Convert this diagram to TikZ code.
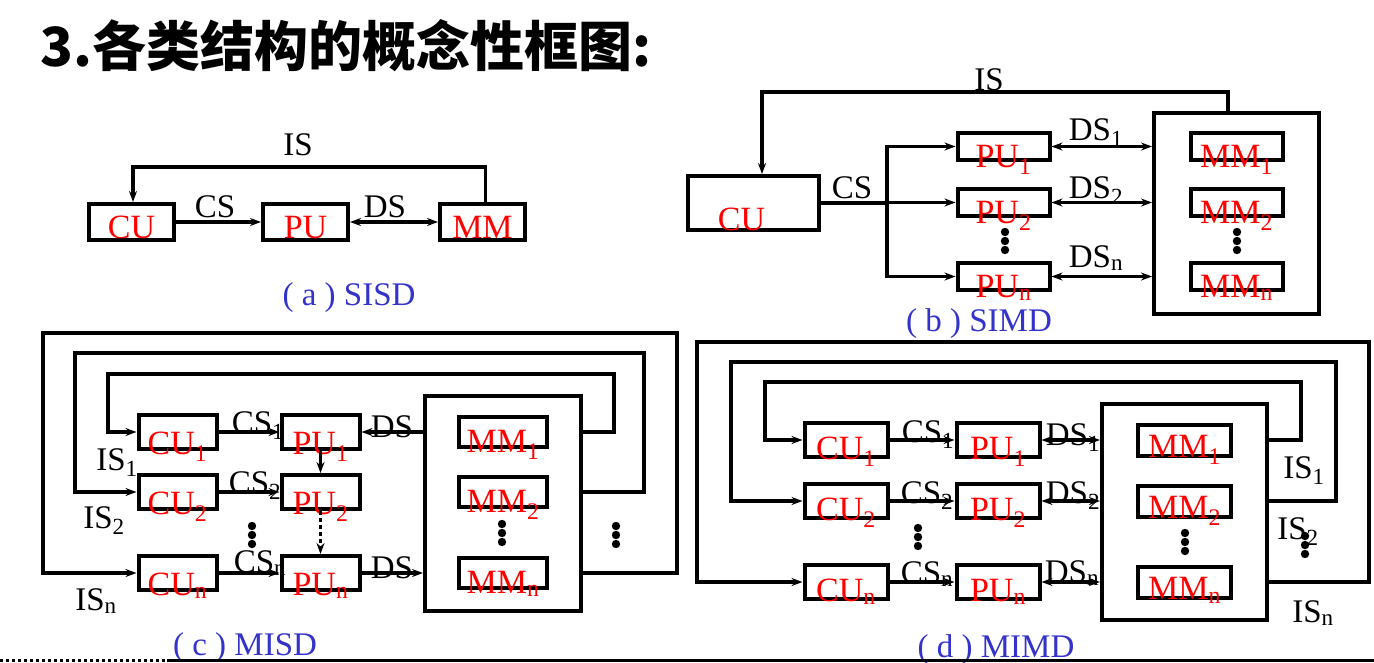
\documentclass[tikz,border=0pt]{standalone}
\usepackage{fontspec}
\setmainfont{Liberation Serif}
\newfontfamily\cjk{Noto Sans CJK SC}
\usetikzlibrary{arrows.meta, positioning}

\definecolor{capblue}{RGB}{51,51,204}
\newcommand\unitfont{\fontsize{34}{40}\selectfont}
\newcommand\sigfont{\fontsize{33}{38}\selectfont}

\tikzstyle{box} = [rectangle, draw=black, line width=4pt, inner sep=0pt]
\tikzstyle{lbl} = [text=red, font=\unitfont, anchor=base, inner sep=0pt]
\tikzstyle{sig} = [font=\sigfont, anchor=base, inner sep=0pt]
\tikzstyle{caption} = [text=capblue, font=\sigfont, anchor=base, inner sep=0pt]
\tikzstyle{arrow} = [line width=3.5pt, -{Stealth[length=11pt, width=8pt]}]
\tikzstyle{darrow} = [line width=3.5pt, {Stealth[length=11pt, width=8pt]}-{Stealth[length=11pt, width=8pt]}]
\tikzstyle{loopline} = [line width=4pt, -{Stealth[length=11pt, width=8pt]}]

\newcommand\dotcol[2]{\foreach \dy in {-9,0,9} {\fill (#1,{#2+(\dy)}) circle (4.2pt);}}

\begin{document}
\begin{tikzpicture}[x=1pt, y=-1pt]
\useasboundingbox (0,0) rectangle (1374,662);

\node[anchor=west, font={\cjk\bfseries\fontsize{54}{58}\selectfont}] (title) at (37,46) {3.各类结构的概念性框图:};

% (a) SISD
\tikzstyle{boxA} = [box, minimum width=85pt, minimum height=36pt]
\node[boxA, label={[lbl, yshift=4pt]south:CU}] (cuA) at (131.5,222) {};
\node[boxA, right=85pt of cuA, label={[lbl, yshift=4pt]south:PU}] (puA) {};
\node[boxA, right=88pt of puA, label={[lbl, yshift=4pt]south:MM}] (mmA) {};

\draw[arrow] (cuA) -- (puA);
\draw[darrow] (puA) -- (mmA);
\draw[arrow] ([xshift=3pt]mmA.north) -- ++(0,-35) -| ([xshift=1.5pt]cuA.north);

\node[sig] (isA) at (298,155) {IS};
\node[sig] (csA) at (215,217) {CS};
\node[sig] (dsA) at (385,217) {DS};
\node[caption] (capA) at (349,305) {( a ) SISD};

% (b) SIMD
\tikzstyle{boxB} = [box, minimum width=92pt, minimum height=27pt]
\node[box, minimum width=131pt, minimum height=54pt, label={[lbl, xshift=-12pt, yshift=2pt]south:CU}] (cuB) at (753.5,203) {};
\node[boxB, label={[lbl, yshift=-5pt]south:PU\textsubscript{1}}] (puB1) at (1003.5,146.5) {};
\node[boxB, below=25pt of puB1, label={[lbl, yshift=-5pt]south:PU\textsubscript{2}}] (puB2) {};
\node[boxB, below=43pt of puB2, label={[lbl, yshift=-5pt]south:PU\textsubscript{n}}] (puBn) {};
\node[box, minimum width=165pt, minimum height=201pt] (memB) at (1236.5,213.5) {};
\node[boxB, label={[lbl, yshift=-5pt]south:MM\textsubscript{1}}] (mmB1) at (puB1 -| memB) {};
\node[boxB, label={[lbl, yshift=-5pt]south:MM\textsubscript{2}}] (mmB2) at (puB2 -| memB) {};
\node[boxB, label={[lbl, yshift=-5pt]south:MM\textsubscript{n}}] (mmBn) at (puBn -| memB) {};

\draw[arrow] ([xshift=-8.5pt]memB.north) -- ++(0,-19) -| ([xshift=8.5pt]cuB.north);
\coordinate (busB) at ([xshift=66pt]cuB.east);
\draw[line width=3.5pt] (cuB) -- (busB);
\draw[arrow] (busB) |- (puB1);
\draw[arrow] (busB) |- (puB2);
\draw[arrow] (busB) |- (puBn);
\draw[darrow] (puB1) -- (puB1 -| memB.west);
\draw[darrow] (puB2) -- (puB2 -| memB.west);
\draw[darrow] (puBn) -- (puBn -| memB.west);

\node[sig] (isB) at (989,90) {IS};
\node[sig] (csB) at (852,198) {CS};
\node[sig] (dsB1) at (1096,140) {DS\textsubscript{1}};
\node[sig] (dsB2) at (1096,198) {DS\textsubscript{2}};
\node[sig] (dsBn) at (1096,267) {DS\textsubscript{n}};
\dotcol{1005}{241}
\dotcol{1237}{241}
\node[caption] (capB) at (979,331) {( b ) SIMD};

% (c) MISD
\tikzstyle{boxC} = [box, minimum width=78pt, minimum height=34pt]
\tikzstyle{memboxC} = [box, minimum width=88pt, minimum height=30pt]
\node[boxC, label={[lbl, yshift=-3pt]south:CU\textsubscript{1}}] (cuC1) at (177.5,432) {};
\node[boxC, below=22pt of cuC1, label={[lbl, yshift=-3pt]south:CU\textsubscript{2}}] (cuC2) {};
\node[boxC, below=43pt of cuC2, label={[lbl, yshift=-3pt]south:CU\textsubscript{n}}] (cuCn) {};
\node[boxC, right=61pt of cuC1, label={[lbl, yshift=-3pt]south:PU\textsubscript{1}}] (puC1) {};
\node[boxC, right=61pt of cuC2, label={[lbl, yshift=-3pt]south:PU\textsubscript{2}}] (puC2) {};
\node[boxC, right=61pt of cuCn, label={[lbl, yshift=-3pt]south:PU\textsubscript{n}}] (puCn) {};
\node[box, minimum width=156pt, minimum height=215pt] (memC) at (503,503.5) {};
\node[memboxC, label={[lbl, yshift=-3pt]south:MM\textsubscript{1}}] (mmC1) at (cuC1 -| memC) {};
\node[memboxC, label={[lbl, yshift=-3pt]south:MM\textsubscript{2}}] (mmC2) at (cuC2 -| memC) {};
\node[memboxC, label={[lbl, yshift=-3pt]south:MM\textsubscript{n}}] (mmCn) at (cuCn -| memC) {};

\draw[arrow] (cuC1) -- (puC1);
\draw[arrow] (cuC2) -- (puC2);
\draw[arrow] (cuCn) -- (puCn);
\draw[arrow] (puC1) -- (puC2);
\draw[arrow, line width=3pt, dash pattern=on 4pt off 3pt] (puC2) -- (puCn);
\draw[arrow] (memC.west |- puC1) -- (puC1);
\draw[arrow] (puCn) -- (puCn -| memC.west);
\draw[loopline] (cuC1 -| memC.east) -| ++(31,-58) -| ([xshift=-29pt]cuC1.west) -- (cuC1.west);
\draw[loopline] (cuC2 -| memC.east) -| ++(61,-139) -| ([xshift=-62pt]cuC2.west) -- (cuC2.west);
\draw[loopline] (cuCn -| memC.east) -| ++(94,-240) -| ([xshift=-94pt]cuCn.west) -- (cuCn.west);

\node[sig] (csC1) at (258,433) {CS\textsubscript{1}};
\node[sig] (csC2) at (255,493) {CS\textsubscript{2}};
\node[sig] (csCn) at (260,572) {CS\textsubscript{n}};
\node[sig] (dsC1) at (392,437) {DS};
\node[sig] (dsCn) at (392,578) {DS};
\node[sig] (isC1) at (117,470) {IS\textsubscript{1}};
\node[sig] (isC2) at (104,528) {IS\textsubscript{2}};
\node[sig] (isCn) at (96,610) {IS\textsubscript{n}};
\dotcol{252}{535}
\dotcol{502}{533}
\dotcol{616}{535}
\node[caption] (capC) at (245,655) {( c ) MISD};

% (d) MIMD
\tikzstyle{boxD} = [box, minimum width=83pt, minimum height=34pt]
\tikzstyle{memboxD} = [box, minimum width=93pt, minimum height=31pt]
\node[boxD, label={[lbl]south:CU\textsubscript{1}}] (cuD1) at (846,440) {};
\node[boxD, below=23pt of cuD1, label={[lbl]south:CU\textsubscript{2}}] (cuD2) {};
\node[boxD, below=43pt of cuD2, label={[lbl]south:CU\textsubscript{n}}] (cuDn) {};
\node[boxD, right=65pt of cuD1, label={[lbl]south:PU\textsubscript{1}}] (puD1) {};
\node[boxD, right=65pt of cuD2, label={[lbl]south:PU\textsubscript{2}}] (puD2) {};
\node[boxD, right=65pt of cuDn, label={[lbl]south:PU\textsubscript{n}}] (puDn) {};
\node[box, minimum width=165pt, minimum height=216pt] (memD) at (1184.5,512) {};
\node[memboxD, label={[lbl]south:MM\textsubscript{1}}] (mmD1) at (cuD1 -| memD) {};
\node[memboxD, label={[lbl]south:MM\textsubscript{2}}] (mmD2) at (cuD2 -| memD) {};
\node[memboxD, label={[lbl]south:MM\textsubscript{n}}] (mmDn) at (cuDn -| memD) {};

\draw[arrow] (cuD1) -- (puD1);
\draw[arrow] (cuD2) -- (puD2);
\draw[arrow] (cuDn) -- (puDn);
\draw[darrow] (puD1) -- (puD1 -| memD.west);
\draw[darrow] (puD2) -- (puD2 -| memD.west);
\draw[darrow] (puDn) -- (puDn -| memD.west);
\draw[loopline] (cuD1 -| memD.east) -| ++(32,-58) -| ([xshift=-37.5pt]cuD1.west) -- (cuD1.west);
\draw[loopline] (cuD2 -| memD.east) -| ++(67,-139) -| ([xshift=-71.5pt]cuD2.west) -- (cuD2.west);
\draw[loopline] (cuDn -| memD.east) -| ++(100,-240) -| ([xshift=-105.5pt]cuDn.west) -- (cuDn.west);

\node[sig] (csD1) at (928,442) {CS\textsubscript{1}};
\node[sig] (csD2) at (927,503) {CS\textsubscript{2}};
\node[sig] (csDn) at (927,583) {CS\textsubscript{n}};
\node[sig] (dsD1) at (1073,445) {DS\textsubscript{1}};
\node[sig] (dsD2) at (1073,503) {DS\textsubscript{2}};
\node[sig] (dsDn) at (1072,582) {DS\textsubscript{n}};
\node[sig] (isD1) at (1304,478) {IS\textsubscript{1}};
\node[sig] (isD2) at (1298,539) {IS\textsubscript{2}};
\node[sig] (isDn) at (1313,622) {IS\textsubscript{n}};
\dotcol{918}{537}
\dotcol{1185}{542}
\dotcol{1305}{545}
\node[caption] (capD) at (996,657) {( d ) MIMD};

% bottom rule
\draw[line width=3pt, dash pattern=on 3pt off 3pt] (0,660) -- (167,660);
\draw[line width=3pt] (167,660) -- (1374,660);
\end{tikzpicture}
\end{document}
